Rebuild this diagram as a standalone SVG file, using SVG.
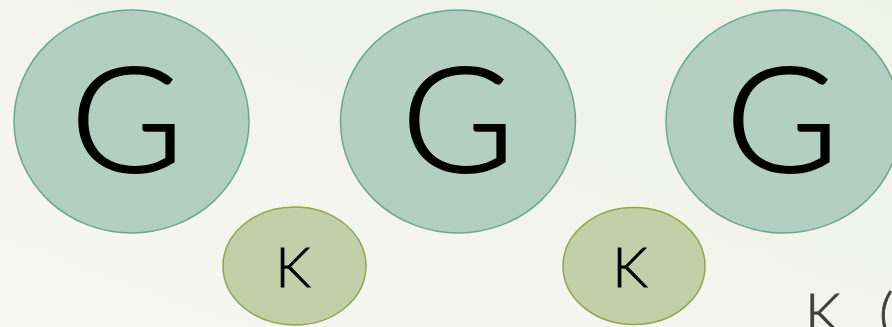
<svg xmlns="http://www.w3.org/2000/svg" width="892" height="327" viewBox="0 0 892 327">
<defs>
<linearGradient id="bg" x1="0" y1="1" x2="1" y2="0">
<stop offset="0" stop-color="#f7f7f3"/>
<stop offset="1" stop-color="#eef2e6"/>
</linearGradient>
</defs>
<style>
.g ellipse{fill:#b2cfc1;stroke:#6aa88e;stroke-width:1.5}
.k ellipse{fill:#c3cfa9;stroke:#8fa84a;stroke-width:1.5}
.g text{font-family:Lato,"Liberation Sans",sans-serif;font-size:147px;font-weight:300;fill:#000;stroke:#000;stroke-width:2;text-anchor:middle}
.k text{font-family:Lato,"Liberation Sans",sans-serif;font-size:56px;font-weight:300;fill:#000;stroke:#000;stroke-width:0.8;text-anchor:middle}
.t{font-family:Lato,"Liberation Sans",sans-serif;font-size:56px;font-weight:300;fill:#404040;stroke:#404040;stroke-width:0.8}
</style>
<rect width="892" height="327" fill="url(#bg)"/>
<g id="g1" class="g"><ellipse cx="131.5" cy="121.5" rx="117.5" ry="111.5"/><text transform="translate(127 172) scale(1.05 1)">G</text></g>
<g id="g2" class="g"><ellipse cx="458" cy="121.5" rx="117.5" ry="111.5"/><text transform="translate(458 172) scale(1.05 1)">G</text></g>
<g id="g3" class="g"><ellipse cx="783.5" cy="121.5" rx="117.5" ry="111.5"/><text transform="translate(782 172) scale(1.05 1)">G</text></g>
<g id="k1" class="k"><ellipse cx="294.5" cy="266" rx="71.5" ry="59"/><text x="293" y="287">K</text></g>
<g id="k2" class="k"><ellipse cx="634" cy="266" rx="71" ry="58.5"/><text x="630" y="287">K</text></g>
<g id="connectors"></g>
<text class="t" y="333"><tspan x="805">K</tspan><tspan x="879">(</tspan></text>
</svg>
